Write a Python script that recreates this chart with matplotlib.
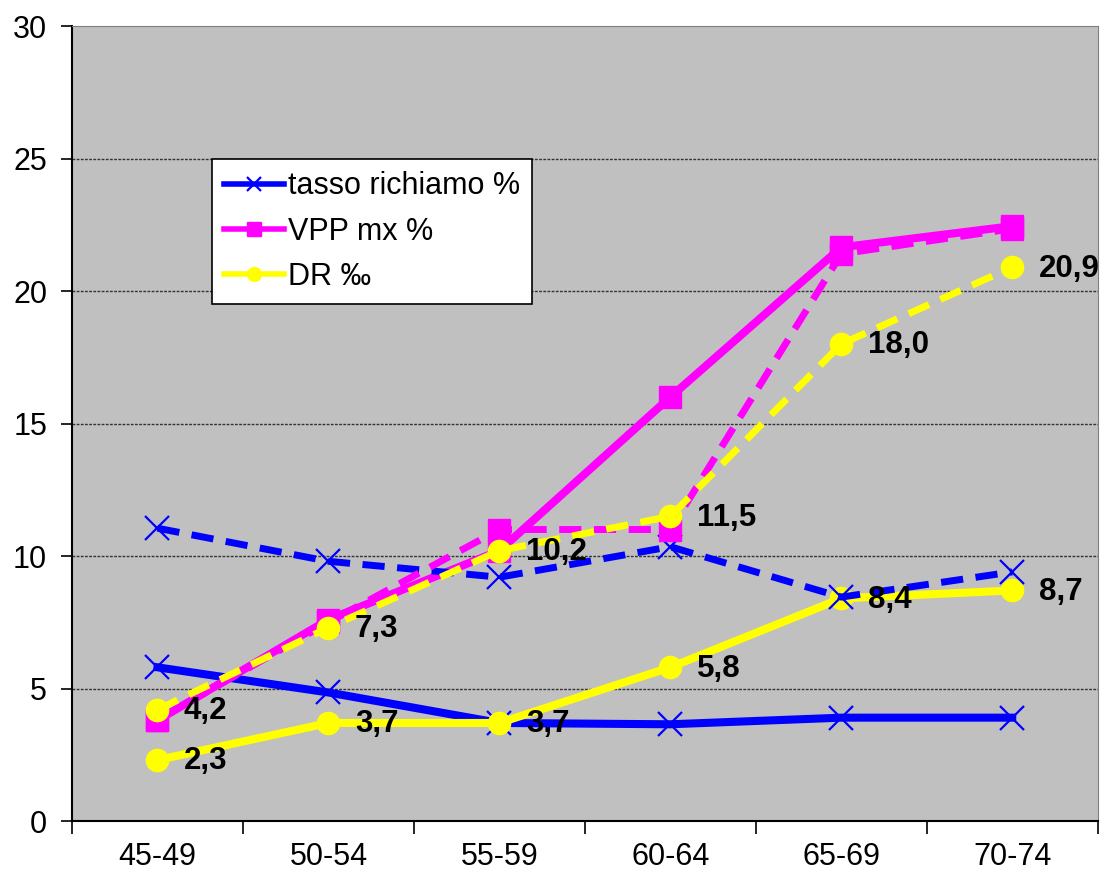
import matplotlib
matplotlib.use("Agg")
import matplotlib.pyplot as plt

plt.rcParams["font.family"] = ["Liberation Sans", "DejaVu Sans"]

categories = ["45-49", "50-54", "55-59", "60-64", "65-69", "70-74"]

# solid series
tasso = [5.8, 4.85, 3.7, 3.65, 3.9, 3.9]
vpp = [3.8, 7.6, 10.2, 16.0, 21.65, 22.45]
dr = [2.3, 3.7, 3.7, 5.8, 8.4, 8.7]

# dashed series
tasso_2 = [11.05, 9.8, 9.2, 10.35, 8.45, 9.4]
vpp_2 = [3.8, 7.5, 11.0, 11.0, 21.4, 22.35]
dr_2 = [4.2, 7.3, 10.2, 11.5, 18.0, 20.9]

dr_labels = ["2,3", "3,7", "3,7", "5,8", "8,4", "8,7"]
dr_2_labels = ["4,2", "7,3", "10,2", "11,5", "18,0", "20,9"]

blue = "#0000FF"
magenta = "#FF00FF"
yellow = "#FFFF00"

fig = plt.figure(figsize=(11.01, 8.71), dpi=100)
ax = fig.add_axes([0.0654, 0.0574, 0.9316, 0.9127])
ax.set_facecolor("#C0C0C0")

x = list(range(len(categories)))

ax.plot(x, tasso, color=blue, lw=5.8, marker="x", ms=17, mew=1.6,
        label="tasso richiamo %", zorder=3)
ax.plot(x, vpp, color=magenta, lw=5.8, marker="s", ms=16,
        label="VPP mx %", zorder=4)
ax.plot(x, dr, color=yellow, lw=5.8, marker="o", ms=16,
        label="DR ‰", zorder=5)

ax.plot(x, tasso_2, color=blue, lw=5, ls=(0, (3.2, 1.8)), marker="x",
        ms=17, mew=1.6, zorder=6)
ax.plot(x, vpp_2, color=magenta, lw=5, ls=(0, (3.2, 1.8)), marker="s",
        ms=16, zorder=7)
ax.plot(x, dr_2, color=yellow, lw=5, ls=(0, (3.2, 1.8)), marker="o",
        ms=16, zorder=8)

for xi, v, t in zip(x, dr, dr_labels):
    ax.annotate(t, (xi, v), xytext=(19, -1), textcoords="offset points",
                ha="left", va="center", fontsize=22.5, fontweight="bold",
                zorder=10)
for xi, v, t in zip(x, dr_2, dr_2_labels):
    ax.annotate(t, (xi, v), xytext=(19, -1), textcoords="offset points",
                ha="left", va="center", fontsize=22.5, fontweight="bold",
                zorder=10)

ax.set_xlim(-0.5, len(categories) - 0.5)
ax.set_ylim(0, 30)
ax.set_yticks(range(0, 31, 5))
ax.set_xticks(x)
ax.set_xticklabels(categories)
ax.set_xticks([i - 0.5 for i in range(len(categories) + 1)], minor=True)
ax.tick_params(axis="x", which="major", length=0, labelsize=22, pad=15)
ax.tick_params(axis="x", which="minor", length=9, width=1.2, direction="out")
ax.tick_params(axis="y", length=8, width=1.2, labelsize=22, pad=10)

for yv in range(5, 30, 5):
    ax.axhline(yv, color="#333333", lw=1, ls=(0, (2, 1)), zorder=1)

ax.spines["left"].set_linewidth(1.5)
ax.spines["bottom"].set_linewidth(1.5)
ax.spines["top"].set_color("#808080")
ax.spines["right"].set_color("#808080")

leg = ax.legend(loc="upper left", bbox_to_anchor=(0.1366, 0.8327),
                borderaxespad=0, fontsize=22, fancybox=False,
                edgecolor="black", framealpha=1, handlelength=1.95,
                labelspacing=0.5, handletextpad=0.12, borderpad=0.4)
leg.get_frame().set_linewidth(1.2)
for h in leg.legend_handles:
    h.set_linewidth(4)
    h.set_markersize(10)

fig.savefig("out.png", dpi=100)
